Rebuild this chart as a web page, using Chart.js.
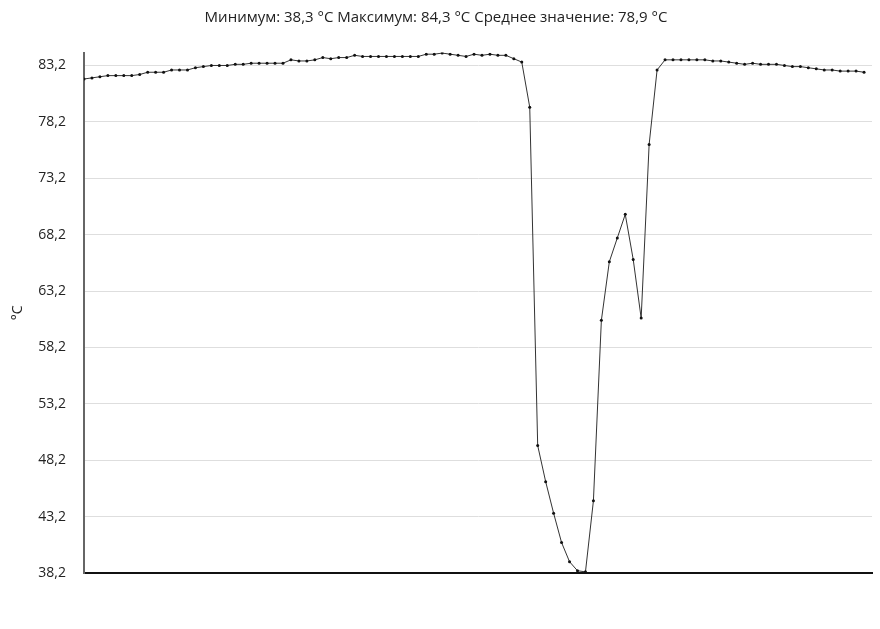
<!DOCTYPE html>
<html lang="ru">
<head>
<meta charset="utf-8">
<title>Температура</title>
<script src="https://cdn.jsdelivr.net/npm/chart.js@4.4.1/dist/chart.umd.min.js"></script>
<style>
  html, body { margin: 0; padding: 0; background: #fff; }
  #tempChart { display: block; }
</style>
</head>
<body>
<canvas id="tempChart" width="880" height="629"></canvas>
<script>
// Temperature readings (°C), one value per sample
const temperatures = [
  82.0, 82.1, 82.2, 82.3, 82.3, 82.3, 82.3, 82.4, 82.6, 82.6,
  82.6, 82.8, 82.8, 82.8, 83.0, 83.1, 83.2, 83.2, 83.2, 83.3,
  83.3, 83.4, 83.4, 83.4, 83.4, 83.4, 83.7, 83.6, 83.6, 83.7,
  83.9, 83.8, 83.9, 83.9, 84.1, 84.0, 84.0, 84.0, 84.0, 84.0,
  84.0, 84.0, 84.0, 84.2, 84.2, 84.3, 84.2, 84.1, 84.0, 84.2,
  84.1, 84.2, 84.1, 84.1, 83.8, 83.5, 79.5, 49.5, 46.3, 43.5,
  40.9, 39.2, 38.4, 38.3, 44.6, 60.6, 65.8, 67.9, 70.0, 66.0,
  60.8, 76.2, 82.8, 83.7, 83.7, 83.7, 83.7, 83.7, 83.7, 83.6,
  83.6, 83.5, 83.4, 83.3, 83.4, 83.3, 83.3, 83.3, 83.2, 83.1,
  83.1, 83.0, 82.9, 82.8, 82.8, 82.7, 82.7, 82.7, 82.6
];

// Y axis tick values
const yTicks = [38.2, 43.2, 48.2, 53.2, 58.2, 63.2, 68.2, 73.2, 78.2, 83.2];

const titleText = 'Минимум: 38,3 °C Максимум: 84,3 °C Среднее значение: 78,9 °C';
const fontFamily = '"Open Sans", "Noto Sans", sans-serif';

/**
 * Draws the temperature line chart
 * @param {string} canvasId - The ID of the canvas element
 */
function createTempChart(canvasId) {
  const ctx = document.getElementById(canvasId);
  if (!ctx) {
    console.error(`Canvas element with ID '${canvasId}' not found.`);
    return null;
  }

  const points = temperatures.map((v, i) => ({ x: i, y: v }));

  return new Chart(ctx, {
    type: 'line',
    data: {
      datasets: [{
        data: points,
        borderColor: '#333',
        borderWidth: 1,
        pointRadius: 1.5,
        pointBorderWidth: 0,
        pointBackgroundColor: '#111',
        tension: 0,
      }],
    },
    options: {
      responsive: false,
      animation: false,
      layout: {
        padding: { left: 0, right: 8, top: 0, bottom: 56 },
      },
      plugins: {
        legend: { display: false },
        tooltip: { enabled: false },
        title: {
          display: true,
          text: titleText,
          color: '#222',
          font: { family: fontFamily, size: 15, weight: 'normal' },
          padding: { top: 9, bottom: 25.5 },
        },
      },
      scales: {
        x: {
          type: 'linear',
          min: 0,
          max: 99,
          ticks: { display: false },
          grid: { display: false, drawTicks: false },
          border: { color: '#111', width: 2 },
          afterFit: function(scale) { scale.height = 0; },
        },
        y: {
          min: 38.2,
          max: 84.35,
          afterBuildTicks: function(scale) {
            scale.ticks = yTicks.map(v => ({ value: v }));
          },
          ticks: {
            color: '#222',
            padding: 18,
            font: { family: fontFamily, size: 14 },
            callback: function(value) {
              return value.toFixed(1).replace('.', ',');
            },
          },
          grid: { color: '#dedede', drawTicks: false },
          border: { color: '#666', width: 2 },
          title: {
            display: true,
            text: '°C',
            color: '#222',
            font: { family: fontFamily, size: 14 },
            padding: { top: 10, bottom: 0 },
          },
          afterFit: function(scale) { scale.width = 84; },
        },
      },
    },
  });
}

createTempChart('tempChart');
</script>
</body>
</html>
